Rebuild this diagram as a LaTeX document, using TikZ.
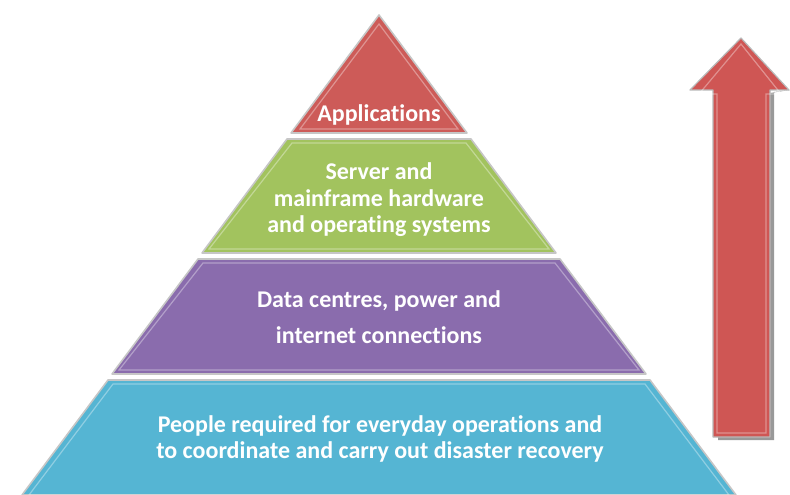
\documentclass[tikz,border=0pt]{standalone}
\usepackage{fontspec}
\setmainfont[Ligatures={NoCommon}]{Carlito}
\usetikzlibrary{calc}
\definecolor{appred}{HTML}{CD5B58}
\definecolor{srvgreen}{HTML}{A2C35E}
\definecolor{dcpurple}{HTML}{8A6CAD}
\definecolor{pplblue}{HTML}{55B5D3}
\definecolor{uparrow}{HTML}{CF5654}
\tikzset{
  layer/.style={draw=gray!45, line width=1.6pt, line join=round},
  bevel/.style={draw=white, opacity=0.35, line width=1.2pt},
  caption/.style={text=white, align=center, font=\bfseries\fontsize{24}{26.5}\selectfont},
}

\begin{document}
\begin{tikzpicture}[x=1pt, y=-1pt]
			%%%%% START %%%%%
			\useasboundingbox (0, 0) rectangle (790, 495);
			
			% top: applications
			\draw[layer, fill=appred] (379, 15) -- (467, 133) -- (291, 133) -- cycle;
			\draw[bevel] (379, 24) -- (458, 129) -- (300, 129) -- cycle;
			\node[caption] (apps) at (379, 115) {Applications};
			
			% server and mainframe
			\draw[layer, fill=srvgreen] (287, 139) -- (471, 139) -- (556, 253) -- (202, 253) -- cycle;
			\draw[bevel] (292, 143) -- (466, 143) -- (549, 249) -- (209, 249) -- cycle;
			\node[caption] (servers) at (379, 200) {Server and\\mainframe hardware\\and operating systems};
			
			% data centres
			\draw[layer, fill=dcpurple] (198, 259) -- (560, 259) -- (646, 374) -- (112, 374) -- cycle;
			\draw[bevel] (203, 263) -- (555, 263) -- (639, 370) -- (119, 370) -- cycle;
			\node[caption, font=\bfseries\fontsize{24}{36.5}\selectfont] (centres) at (379, 317) {Data centres, power and\\internet connections};
			
			% people
			\draw[layer, fill=pplblue] (108, 380) -- (650, 380) -- (736, 495) -- (22, 495) -- cycle;
			\draw[bevel] (113, 384) -- (645, 384) -- (729, 495) -- (29, 495) -- cycle;
			\node[caption, font=\bfseries\fontsize{24}{25.5}\selectfont] (people) at (380, 439) {People required for everyday operations and\\to coordinate and carry out disaster recovery};
			
			% arrow
			\fill[black!40] (718, 440) -- (718, 93) -- (770, 93) -- (790, 90) -- (774, 92) -- (774, 440) -- cycle;
			\draw[draw=gray!55, line width=1.2pt, fill=uparrow, line join=round] (713, 437) -- (713, 90) -- (690, 90) -- (741, 38) -- (789, 90) -- (770, 90) -- (770, 437) -- cycle;
			\draw[bevel] (717, 433) -- (717, 94) -- (699, 94) -- (741, 44) -- (781, 94) -- (766, 94) -- (766, 433) -- cycle;
			
			%%%%% END %%%%%
\end{tikzpicture}
\end{document}
